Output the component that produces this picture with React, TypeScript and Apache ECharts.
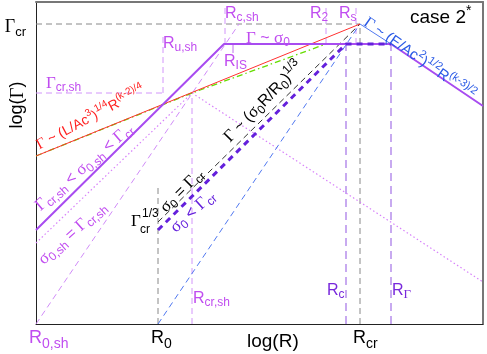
import React, { useEffect, useRef } from 'react';
import * as echarts from 'echarts';

// ---- log(R) positions (arbitrary log units) ----
const R_MAX = 4.47;
const G_MAX = 3.22;
const R0sh = 0;
const R0 = 1.22;
const Rush = 1.27;
const Rcrsh = 1.56;
const RIS = 1.88;
const RISmark = 1.97;
const Rcsh = 1.89;
const R2 = 2.9;
const Rc = 3.1;
const Rs = 3.2;
const Rcr = 3.24;
const RGam = 3.55;

// ---- log(Γ) levels ----
const Gcr = 3.0;
const Gcrsh = 2.31;
const Gsig0 = 2.8;
const Gtop = 3.16;

// ---- curves ----
const mainCurve = [[0, 0.94], [RIS, Gsig0], [RGam, Gsig0], [R_MAX, 2.18]];
const redLine = [[0, 1.68], [Rcr, Gcr]];
const greenLine = [[0, 1.68], [Rcrsh, Gcrsh], [R2, Gsig0]];
const blueDashed = [[R0, 0], [Rcr, Gcr]];
const blueSolid = [[Rcr, Gcr], [RGam, Gsig0]];
const blackDashed = [[R0, 1.02], [Rcr, Gcr]];
const violetDashed = [[R0, 0.94], [Rc, Gsig0], [RGam, Gsig0]];
const shDotted = [[0, 0.81], [Rcrsh, Gcrsh]];
const shDeclineDotted = [[Rcrsh, Gcrsh], [R_MAX, 0.42]];
const shDashed = [[0, 0], [2.03, Gcr]];

// ---- reference lines ----
const GcrLine = [[0, Gcr], [Rcr, Gcr]];
const RcrLine = [[Rcr, 0], [Rcr, Gcr]];
const R0Line = [[R0, 0], [R0, 1.39]];
const GcrshLine = [[0, Gcrsh], [Rush, Gcrsh]];
const RushLine = [[Rush, Gcrsh], [Rush, 2.89]];
const RcrshLine = [[Rcrsh, 0], [Rcrsh, Gcrsh]];
const RcshLine = [[Rcsh, Gsig0], [Rcsh, Gtop]];
const RISLine = [[RISmark, Gsig0], [RISmark, 2.71]];
const R2Line = [[R2, Gsig0], [R2, Gtop]];
const RsLine = [[Rs, Gsig0], [Rs, Gtop]];
const RcLine = [[Rc, 0], [Rc, Gsig0]];
const RGamLine = [[RGam, 0], [RGam, Gsig0]];

// ---- tick labels ----
const xTickValues = [R0sh, R0, Rcr];
const xTickLabels = ['{t|R}{b|0,sh}', '{t|R}{b|0}', '{t|R}{b|cr}'];
const xTickColors = ['#c04cf0', '#000000', '#000000'];

const SANS = 'Liberation Sans';
const SERIF = 'Liberation Serif';

const richFor = (s: number) => ({
  t: { fontFamily: SANS, fontSize: s, lineHeight: Math.round(s * 1.4) },
  g: { fontFamily: SERIF, fontSize: Math.round(s * 1.08), lineHeight: Math.round(s * 1.4) },
  b: { fontFamily: SANS, fontSize: Math.round(s * 0.75), lineHeight: Math.round(s * 0.75), verticalAlign: 'bottom' },
  bg: { fontFamily: SERIF, fontSize: Math.round(s * 0.8), lineHeight: Math.round(s * 0.8), verticalAlign: 'bottom' },
  p: { fontFamily: SANS, fontSize: Math.round(s * 0.72), lineHeight: Math.round(s * 0.72), verticalAlign: 'top' },
});

const txt = (x: number, y: number, text: string, fill: string, size: number, rot = 0, align = 'left') => ({
  type: 'text',
  x,
  y,
  rotation: (rot * Math.PI) / 180,
  silent: true,
  z: 100,
  style: { text, fill, rich: richFor(size), align, verticalAlign: 'middle', fontFamily: SANS, fontSize: size },
});

export default function App() {
  const ref = useRef<HTMLDivElement>(null);
  useEffect(() => {
    const chart = echarts.init(ref.current!, null, { renderer: 'svg' });
    const ls = (data: number[][], color: string, width: number, type: any) => ({
      type: 'line',
      data,
      showSymbol: false,
      symbol: 'none',
      silent: true,
      lineStyle: { color, width, type },
    });
    const axisCommon = {
      type: 'value',
      axisTick: { show: false },
      axisLabel: { show: false },
      splitLine: { show: false },
    };
    chart.setOption({
      animation: false,
      grid: { left: 36, right: 4, top: 2, bottom: 30 },
      xAxis: [
        { ...axisCommon, min: 0, max: R_MAX, position: 'bottom', axisLine: { show: true, onZero: false, lineStyle: { color: '#222', width: 1 } } },
        { ...axisCommon, min: 0, max: R_MAX, position: 'top', axisLine: { show: true, onZero: false, lineStyle: { color: '#777', width: 2 } } },
      ],
      yAxis: [
        { ...axisCommon, min: 0, max: G_MAX, position: 'left', axisLine: { show: true, onZero: false, lineStyle: { color: '#222', width: 1 } } },
        { ...axisCommon, min: 0, max: G_MAX, position: 'right', axisLine: { show: true, onZero: false, lineStyle: { color: '#777', width: 2 } } },
      ],
      series: [
        ls(GcrLine, '#888888', 1, [6, 4]),
        ls(RcrLine, '#888888', 1, [6, 4]),
        ls(R0Line, '#888888', 1, [6, 4]),
        ls(GcrshLine, '#d296fa', 1, [6, 4]),
        ls(RushLine, '#d296fa', 1, [6, 4]),
        ls(RcrshLine, '#d296fa', 1, [6, 4]),
        ls(RcshLine, '#d296fa', 1, [6, 4]),
        ls(RISLine, '#c070f0', 1, 'solid'),
        ls(R2Line, '#d296fa', 1, [6, 4]),
        ls(RsLine, '#d296fa', 1, [6, 4]),
        ls(RcLine, '#c8aaf0', 2, [8, 5]),
        ls(RGamLine, '#c8aaf0', 2, [8, 5]),
        ls(shDashed, '#d08cf8', 1, [6, 4]),
        ls(shDotted, '#d782fa', 1.2, [1.5, 2.5]),
        ls(shDeclineDotted, '#d782fa', 1.2, [1.5, 2.5]),
        ls(blueDashed, '#5078f0', 1, [6, 4]),
        ls(blueSolid, '#5078f0', 1, 'solid'),
        ls(blackDashed, '#333333', 1, [6, 4]),
        ls(greenLine, '#66dd00', 1.3, [6, 3, 1.5, 3]),
        ls(redLine, '#ff3030', 1, 'solid'),
        ls(mainCurve, '#a84cf0', 2, 'solid'),
        ls(violetDashed, '#6420dc', 3, [6, 5]),
      ],
    });

    const PUR = '#c04cf0';
    const els: any[] = [];
    // tick labels on x axis
    xTickValues.forEach((v, i) => {
      const p = chart.convertToPixel({ xAxisIndex: 0 }, v) as number;
      els.push(txt(p - 7, 337, xTickLabels[i], xTickColors[i], 18));
    });
    // y tick label Γcr
    const py = chart.convertToPixel({ yAxisIndex: 0 }, Gcr) as number;
    els.push(txt(26, py + 2, '{g|Γ}{b|cr}', '#000', 17, 0, 'right'));
    // axis names
    els.push(txt(16, 105, '{t|log(}{g|Γ}{t|)}', '#000', 18, 90, 'center'));
    els.push(txt(247, 340, '{t|log(R)}', '#000', 19));
    // case label
    els.push(txt(410, 16, '{t|case 2}{p|*}', '#000', 19));

    // annotations
    els.push(txt(46, 82, '{g|Γ}{b|cr,sh}', PUR, 16));
    els.push(txt(163, 42, '{t|R}{b|u,sh}', PUR, 16));
    els.push(txt(225, 12, '{t|R}{b|c,sh}', PUR, 16));
    els.push(txt(224, 60, '{t|R}{b|IS}', PUR, 16));
    els.push(txt(246, 37, '{g|Γ}{t| ~ }{g|σ}{b|0}', PUR, 16));
    els.push(txt(310, 12, '{t|R}{b|2}', PUR, 16));
    els.push(txt(339, 12, '{t|R}{b|s}', PUR, 16));
    els.push(txt(193, 297, '{t|R}{b|cr,sh}', PUR, 16));
    els.push(txt(327, 289, '{t|R}{b|c}', '#7828dc', 16));
    els.push(txt(392, 289, '{t|R}{bg|Γ}', '#7828dc', 16));

    els.push(txt(366, 20, '{g|Γ}{t| ~ (E/Ac}{p|2}{t|)}{p|1/2}{t|R}{p|(k-3)/2}', '#2a5ae6', 15, -35));
    els.push(txt(37, 145, '{g|Γ}{t| ~ (L/Ac}{p|3}{t|)}{p|1/4}{t|R}{p|(k-2)/4}', '#ff2020', 14, 28));
    els.push(txt(37, 207, '{g|Γ}{b|cr,sh}{t| < }{g|σ}{b|0,sh}{t| < }{g|Γ}{b|cr}', PUR, 16, 41));
    els.push(txt(40, 261, '{g|σ}{b|0,sh}{t| = }{g|Γ}{b|cr,sh}', PUR, 16, 42));
    els.push(txt(162, 209, '{g|σ}{b|0}{t| = }{g|Γ}{b|cr}', '#000', 16, 45));
    els.push(txt(172, 229, '{g|σ}{b|0}{t| < }{g|Γ}{b|cr}', '#6420dc', 16, 42));
    els.push(txt(226, 139, '{g|Γ}{t| ~ (}{g|σ}{b|0}{t|R/R}{b|0}{t|)}{p|1/3}', '#000', 16, 46));

    // Γcr^(1/3)
    els.push(txt(131, 220, '{g|Γ}', '#000', 16));
    els.push(txt(142, 213, '{t|1/3}', '#000', 12));
    els.push(txt(140, 229, '{t|cr}', '#000', 12));

    chart.setOption({ graphic: { elements: els } });
    return () => chart.dispose();
  }, []);
  return <div ref={ref} style={{ position: 'fixed', left: 0, top: 0, width: 487, height: 354 }} />;
}
